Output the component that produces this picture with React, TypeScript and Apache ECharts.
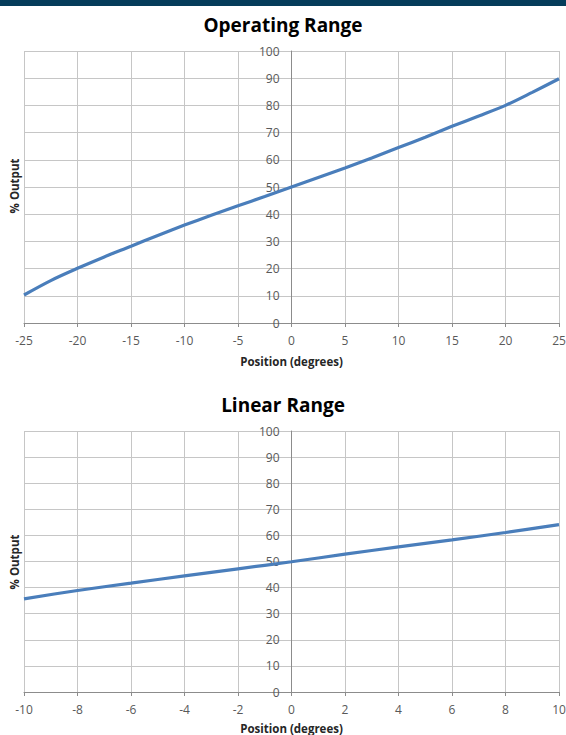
import React, { useEffect, useRef } from "react";
import * as echarts from "echarts";

const opTitle = "Operating Range";
const linTitle = "Linear Range";
const xName = "Position (degrees)";
const yName = "% Output";

const opX = [-25, -22.5, -20, -17.5, -15, -12.5, -10, -7.5, -5, -2.5, 0, 2.5, 5, 7.5, 10, 12.5, 15, 17.5, 20, 22.5, 25];
const opY = [10.3, 15.6, 20.1, 24.3, 28.2, 32.2, 36.0, 39.6, 43.1, 46.5, 50.0, 53.5, 57.0, 60.7, 64.5, 68.3, 72.3, 76.1, 80.0, 84.8, 89.8];

const linX = [-10, -8, -6, -4, -2, 0, 2, 4, 6, 8, 10];
const linY = [35.7, 38.9, 41.7, 44.5, 47.2, 49.9, 52.8, 55.6, 58.3, 61.1, 64.1];

const FONT = "'Open Sans', sans-serif";
const LINE_COLOR = "#4a7ebb";
const GRID_COLOR = "#c6c6c6";
const AXIS_COLOR = "#8c8c8c";
const LABEL_COLOR = "#595959";

const GRID_LEFT = 24;
const GRID_WIDTH = 535;

function xAxisCfg(gridIndex: number, min: number, max: number, interval: number, nameGap: number) {
  return {
    type: "value",
    gridIndex,
    min,
    max,
    interval,
    name: xName,
    nameLocation: "middle",
    nameGap,
    nameTextStyle: { fontFamily: FONT, fontWeight: "bold", fontSize: 11.5, color: "#262626" },
    axisLine: { onZero: false, lineStyle: { color: AXIS_COLOR, width: 1 } },
    axisTick: { show: true, length: 4, lineStyle: { color: AXIS_COLOR } },
    axisLabel: { fontFamily: FONT, fontSize: 12, color: LABEL_COLOR, margin: 11 },
    splitLine: { show: true, lineStyle: { color: GRID_COLOR, width: 1 } },
  };
}

function yAxisCfg(gridIndex: number) {
  return {
    type: "value",
    gridIndex,
    min: 0,
    max: 100,
    interval: 10,
    position: "left",
    offset: -GRID_WIDTH / 2,
    axisLine: { show: true, onZero: false, lineStyle: { color: AXIS_COLOR, width: 1 } },
    axisTick: { show: false },
    axisLabel: { fontFamily: FONT, fontSize: 12, color: LABEL_COLOR, margin: 12 },
    splitLine: { show: true, lineStyle: { color: GRID_COLOR, width: 1 } },
  };
}

export default function App() {
  const ref = useRef<HTMLDivElement>(null);

  useEffect(() => {
    if (!ref.current) return;
    const chart = echarts.init(ref.current, null, { renderer: "svg" });
    chart.setOption({
      animation: false,
      backgroundColor: "#ffffff",
      title: [
        {
          text: opTitle,
          left: "center",
          top: 10,
          textStyle: { fontFamily: FONT, fontWeight: "bold", fontSize: 19, color: "#000000" },
        },
        {
          text: linTitle,
          left: "center",
          top: 390,
          textStyle: { fontFamily: FONT, fontWeight: "bold", fontSize: 19, color: "#000000" },
        },
      ],
      grid: [
        { left: GRID_LEFT, top: 51, width: GRID_WIDTH, height: 272, outerBoundsMode: "none", containLabel: false },
        { left: GRID_LEFT, top: 431, width: GRID_WIDTH, height: 261, outerBoundsMode: "none", containLabel: false },
      ],
      xAxis: [xAxisCfg(0, -25, 25, 5, 32), xAxisCfg(1, -10, 10, 2, 30)],
      yAxis: [yAxisCfg(0), yAxisCfg(1)],
      graphic: [
        {
          type: "rect",
          shape: { x: 0, y: 0, width: 566, height: 6 },
          style: { fill: "#053c5a" },
        },
        {
          type: "text",
          x: 14,
          y: 186,
          rotation: Math.PI / 2,
          style: {
            text: yName,
            fontFamily: FONT,
            fontWeight: "bold",
            fontSize: 11.5,
            fill: "#262626",
            align: "center",
            verticalAlign: "middle",
          },
        },
        {
          type: "text",
          x: 14,
          y: 562,
          rotation: Math.PI / 2,
          style: {
            text: yName,
            fontFamily: FONT,
            fontWeight: "bold",
            fontSize: 11.5,
            fill: "#262626",
            align: "center",
            verticalAlign: "middle",
          },
        },
      ],
      series: [
        {
          type: "line",
          xAxisIndex: 0,
          yAxisIndex: 0,
          data: opX.map((x, i) => [x, opY[i]]),
          smooth: 0.3,
          showSymbol: false,
          lineStyle: { color: LINE_COLOR, width: 3.2 },
        },
        {
          type: "line",
          xAxisIndex: 1,
          yAxisIndex: 1,
          data: linX.map((x, i) => [x, linY[i]]),
          smooth: 0.3,
          showSymbol: false,
          lineStyle: { color: LINE_COLOR, width: 3.2 },
        },
      ],
    });
    return () => chart.dispose();
  }, []);

  return (
    <div
      ref={ref}
      style={{ position: "fixed", left: 0, top: 0, width: 566, height: 735, background: "#fff" }}
    />
  );
}
